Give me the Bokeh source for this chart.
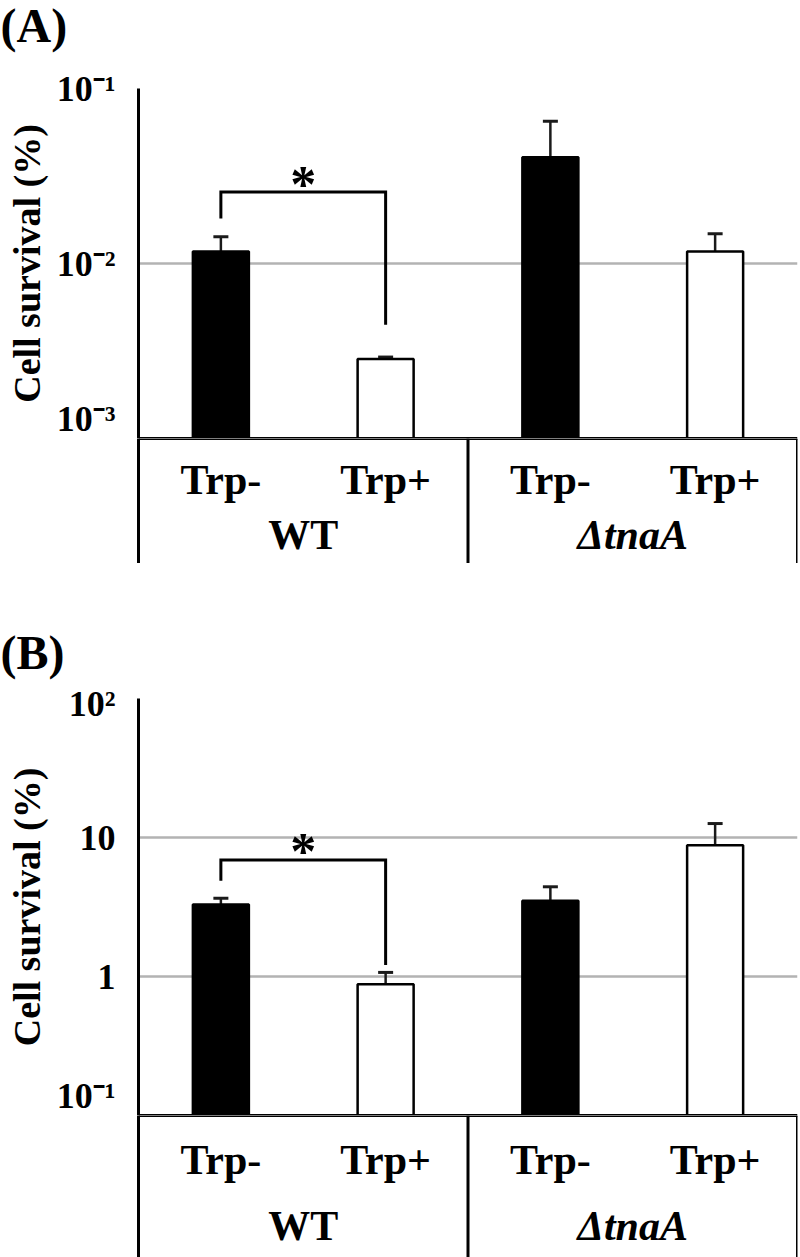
from bokeh.plotting import figure
from bokeh.models import FactorRange, Range1d, Span, FixedTicker, ColumnDataSource
from bokeh.layouts import column
from bokeh.embed import file_html
from bokeh.resources import INLINE
from bokeh.core.properties import value

# ---------------- data ----------------
groups = ["WT", "ΔtnaA"]
conditions = ["Trp-", "Trp+"]
bar_colors = ["black", "white", "black", "white"]

# Panel A: cell survival (%)
a_vals = [0.0117, 0.00285, 0.0405, 0.0117]
a_errs = [0.0025, 0.00007, 0.0245, 0.0031]
a_ticks = [0.001, 0.01, 0.1]
a_tick_labels = ["10⁻³", "10⁻²", "10⁻¹"]

# Panel B: cell survival (%)
b_vals = [3.3, 0.88, 3.5, 8.8]
b_errs = [0.35, 0.19, 0.92, 3.8]
b_ticks = [0.1, 1, 10, 100]
b_tick_labels = ["10⁻¹", "1", "10", "10²"]

# significance bracket (between WT Trp- and WT Trp+): [left end, top, right end]
a_bracket = [0.0181, 0.0256, 0.00447]
b_bracket = [4.88, 6.9, 1.21]

# ---------------- layout ----------------
W = 800
LEFT = 138
RIGHT = 3
FONT = "Liberation Serif"
factors = [(g, c) for g in groups for c in conditions]
xr = FactorRange(*factors, range_padding=0, group_padding=0, factor_padding=0)


def title_fig(text, height, center_from_top):
    p = figure(x_range=Range1d(0, W), y_range=Range1d(0, height), width=W, height=height,
               output_backend="svg", toolbar_location=None, frame_align=False,
               min_border_left=0, min_border_right=0, min_border_top=0,
               min_border_bottom=0, outline_line_color=None)
    p.axis.visible = False
    p.grid.visible = False
    p.text(x=[0], y=[height - center_from_top], text=[text], text_font=value(FONT),
           text_font_size="48px", text_font_style="bold", text_color="black",
           text_align="left", text_baseline="middle")
    return p


def value_fig(vals, errs, ticks, labels, height, border_top, bracket):
    y0, y1 = ticks[0], ticks[-1]
    p = figure(x_range=xr, y_range=Range1d(y0, y1), y_axis_type="log",
               width=W, height=height, output_backend="svg", toolbar_location=None,
               min_border_left=LEFT, min_border_right=RIGHT, min_border_top=border_top,
               min_border_bottom=0, outline_line_color=None, background_fill_color="white")

    p.xaxis.visible = False
    p.xgrid.visible = False
    p.ygrid.ticker = FixedTicker(ticks=ticks)
    p.ygrid.grid_line_color = "#b3b3b3"
    p.ygrid.grid_line_width = 2.5
    p.ygrid.minor_grid_line_color = None

    ax = p.yaxis[0]
    ax.ticker = FixedTicker(ticks=ticks)
    ax.major_label_overrides = {t: l for t, l in zip(ticks, labels)}
    ax.major_label_text_font = FONT
    ax.major_label_text_font_size = "36px"
    ax.major_label_text_font_style = "bold"
    ax.major_label_text_color = "black"
    ax.major_label_standoff = 17
    ax.major_tick_line_color = None
    ax.minor_tick_line_color = None
    ax.axis_line_width = 3
    ax.axis_line_color = "black"
    ax.axis_label = "Cell survival (%)"
    ax.axis_label_text_font = FONT
    ax.axis_label_text_font_size = "38px"
    ax.axis_label_text_font_style = "bold"
    ax.axis_label_text_color = "black"
    ax.axis_label_standoff = 6

    tops = [v + e for v, e in zip(vals, errs)]
    src = ColumnDataSource(dict(x=factors, top=vals, etop=tops, color=bar_colors))
    p.segment(x0="x", y0="top", x1="x", y1="etop", source=src,
              line_color="#1a1a1a", line_width=2.5)
    p.scatter(x="x", y="etop", source=src, marker="dash", size=15,
              line_color="#1a1a1a", line_width=3)
    p.vbar(x="x", top="top", bottom=y0, width=0.34, source=src,
           fill_color="color", line_color="black", line_width=2.5)

    p.add_layout(Span(location=y0, dimension="width", line_color="black", line_width=3))

    # significance bracket
    p.line(x=[factors[0], factors[0], factors[1], factors[1]],
           y=[bracket[0], bracket[1], bracket[1], bracket[2]],
           line_color="black", line_width=3, line_join="miter")
    p.text(x=[groups[0]], y=[bracket[1]], text=["*"], text_font=value(FONT),
           text_font_size="52px", text_font_style="bold", text_align="center",
           text_baseline="middle", y_offset=-8, text_color="black")
    return p


def cat_fig(height, sub_off, grp_off):
    p = figure(x_range=xr, y_range=Range1d(0, height), width=W, height=height,
               output_backend="svg", toolbar_location=None,
               min_border_left=LEFT, min_border_right=RIGHT, min_border_top=0,
               min_border_bottom=0, outline_line_color=None)
    p.xaxis.visible = False
    p.grid.visible = False
    ax = p.yaxis[0]
    ax.ticker = FixedTicker(ticks=[])
    ax.major_tick_line_color = None
    ax.minor_tick_line_color = None
    ax.axis_line_width = 3
    ax.axis_line_color = "black"
    p.add_layout(Span(location=height, dimension="width", line_color="black", line_width=3))
    p.add_layout(Span(location=len(conditions), dimension="height", line_color="black", line_width=3))
    p.add_layout(Span(location=len(factors), dimension="height", line_color="black", line_width=3))
    p.text(x=factors, y=[height - sub_off] * len(factors),
           text=[c for g in groups for c in conditions],
           text_font=value(FONT), text_font_size="42px", text_font_style="bold",
           text_align="center", text_baseline="middle", text_color="black")
    p.text(x=[groups[0]], y=[height - grp_off], text=[groups[0]],
           text_font=value(FONT), text_font_size="42px", text_font_style="bold",
           text_align="center", text_baseline="middle", text_color="black")
    p.text(x=[groups[1]], y=[height - grp_off], text=[groups[1]],
           text_font=value(FONT), text_font_size="42px", text_font_style="bold italic",
           text_align="center", text_baseline="middle", text_color="black")
    return p


tA = title_fig("(A)", 60, 25)
pA = value_fig(a_vals, a_errs, a_ticks, a_tick_labels, 378, 28, a_bracket)
pAc = cat_fig(125, 41, 96)
tB = title_fig("(B)", 120, 89)
pB = value_fig(b_vals, b_errs, b_ticks, b_tick_labels, 432, 15, b_bracket)
pBc = cat_fig(142, 44, 110)

layout = column(tA, pA, pAc, tB, pB, pBc, spacing=0)
open("out.html", "w").write(file_html(layout, INLINE))
